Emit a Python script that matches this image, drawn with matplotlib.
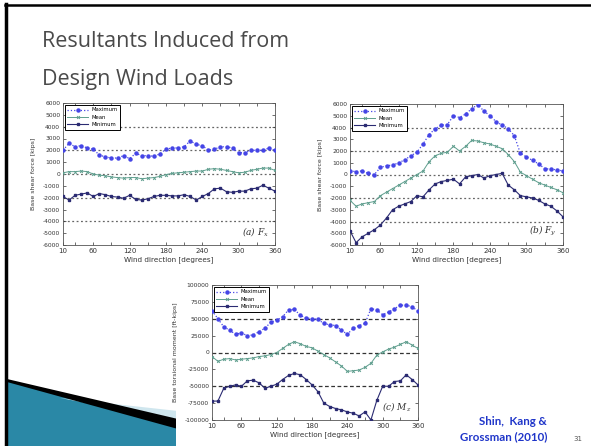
import numpy as np
import matplotlib.pyplot as plt
from matplotlib.patches import Polygon

plt.rcParams['mathtext.fontset'] = 'dejavuserif'

#---Wind directions (degrees)---
wind_dir = np.arange(10, 361, 10)

#---Base shear force Fx [kips]---
fx_max = [2000, 2600, 2300, 2400, 2200, 2100, 1600, 1450, 1350, 1350,
          1550, 1300, 1750, 1550, 1550, 1500, 1700, 2100, 2200, 2200,
          2300, 2800, 2500, 2400, 2000, 2100, 2300, 2300, 2200, 1800,
          1800, 2000, 2000, 2000, 2200, 2000]
fx_mean = [100, 200, 200, 250, 200, 0, -100, -150, -250, -300,
           -350, -300, -300, -400, -350, -300, -200, -50, 50, 100,
           150, 200, 250, 250, 400, 450, 400, 300, 200, 100,
           150, 300, 400, 500, 500, 300]
fx_min = [-1900, -2200, -1800, -1700, -1600, -1900, -1650, -1750, -1900, -1950,
          -2050, -1800, -2150, -2200, -2100, -1900, -1800, -1800, -1850, -1850,
          -1750, -1900, -2200, -1900, -1650, -1250, -1200, -1500, -1550, -1450,
          -1450, -1250, -1200, -950, -1200, -1450]

#---Base shear force Fy [kips]---
fy_max = [300, 250, 300, 100, 0, 600, 750, 800, 1000, 1250,
          1600, 1900, 2600, 3400, 3900, 4200, 4250, 5000, 4850, 5150,
          5600, 5950, 5400, 5000, 4500, 4200, 3900, 3300, 1800, 1500,
          1200, 900, 500, 450, 400, 300]
fy_mean = [-2200, -2700, -2500, -2400, -2300, -1800, -1500, -1200, -900, -600,
           -300, 0, 300, 1100, 1600, 1800, 1900, 2400, 2000, 2400,
           2900, 2850, 2700, 2600, 2400, 2200, 1700, 1100, 200, -100,
           -400, -700, -900, -1100, -1300, -1550]
fy_min = [-4800, -5800, -5300, -5000, -4700, -4300, -3700, -3000, -2700, -2500,
          -2300, -1800, -1900, -1300, -800, -600, -500, -400, -800, -200,
          -100, 0, -300, -100, 0, 100, -900, -1300, -1800, -1900,
          -2000, -2200, -2500, -2700, -3100, -3600]

#---Base torsional moment Mz [ft-kips]---
mz_max = [62000, 50000, 38000, 33000, 27000, 29000, 25000, 26000, 31000, 36000,
          45000, 48000, 53000, 63000, 64000, 55000, 51000, 50000, 49000, 43000,
          41000, 40000, 33000, 27000, 36000, 40000, 43000, 65000, 63000, 56000,
          60000, 65000, 70000, 70000, 68000, 61000]
mz_mean = [-6000, -13000, -10000, -9000, -11000, -10000, -9000, -8000, -6000, -5000,
           -3000, 0, 6000, 12000, 16000, 13000, 9000, 7000, 2000, -3000,
           -8000, -14000, -20000, -28000, -27000, -26000, -22000, -16000, -4000, 1000,
           5000, 8000, 12000, 16000, 11000, 6000]
mz_min = [-72000, -72000, -53000, -50000, -48000, -50000, -42000, -41000, -45000, -53000,
          -50000, -47000, -40000, -34000, -31000, -33000, -40000, -48000, -58000, -75000,
          -80000, -83000, -85000, -88000, -90000, -94000, -88000, -100000, -71000, -50000,
          -50000, -43000, -42000, -33000, -40000, -48000]

x_ticks = [10, 60, 120, 180, 240, 300, 360]
W, H = 591, 446


#---Helper to place an axes using pixel coordinates of the slide---
def px_axes(left, top, right, bottom):
    return fig.add_axes([left / W, 1 - bottom / H, (right - left) / W,
                         (bottom - top) / H])


#---Draw one panel of max / mean / min curves---
def panel(ax, ymax, ymean, ymin, ylim, yticks, ytick_labels, grid_y, ylabel,
          tag, grid_ls, grid_col):
    for g in grid_y:
        ax.axhline(g, color=grid_col, ls=grid_ls, lw=0.9, zorder=1)
    ax.plot(wind_dir, ymax, color='#4545e6', ls=':', lw=0.9, marker='o',
            ms=2.2, label='Maximum', zorder=3)
    ax.plot(wind_dir, ymean, color='#5f9e8e', ls='-', lw=0.7, marker='x',
            ms=2.0, mew=0.7, label='Mean', zorder=3)
    ax.plot(wind_dir, ymin, color='#2b2b72', ls='-', lw=0.8, marker='s',
            ms=2.0, label='Minimum', zorder=3)
    ax.set_xlim(10, 360)
    ax.set_ylim(*ylim)
    ax.set_xticks(x_ticks)
    ax.set_xticks(np.arange(30, 360, 60), minor=True)
    ax.set_yticks(yticks)
    ax.set_yticklabels(ytick_labels)
    ax.tick_params(which='both', direction='in', top=True, right=True,
                   length=2, width=0.5, labelsize=4.3, pad=2, colors='#333333')
    ax.tick_params(axis='x', labelsize=5)
    for s in ax.spines.values():
        s.set_linewidth(0.6)
        s.set_color('#555555')
    ax.set_xlabel('Wind direction [degrees]', fontsize=5.2, labelpad=1.5,
                  color='#333333')
    ax.set_ylabel(ylabel, fontsize=4.5, labelpad=5, color='#333333')
    leg = ax.legend(loc='upper left', fontsize=3.8, handlelength=3.8,
                    fancybox=False, framealpha=1, borderpad=0.45,
                    labelspacing=0.45, borderaxespad=0.4)
    leg.get_frame().set_edgecolor('black')
    leg.get_frame().set_linewidth(0.7)
    ax.text(0.97, 0.05, tag, transform=ax.transAxes, ha='right', va='bottom',
            fontsize=6.5, family='DejaVu Serif', style='italic',
            color='#333333')


fig = plt.figure(figsize=(W / 100, H / 100), dpi=100)

#---Slide background, frame and corner wedge---
bg = fig.add_axes([0, 0, 1, 1])
bg.set_xlim(0, W)
bg.set_ylim(H, 0)
bg.axis('off')
bg.add_patch(Polygon([(7, 381), (178, 428), (178, 446), (7, 446)],
                     closed=True, color='#2a88a6', lw=0))
bg.add_patch(Polygon([(60, 398), (178, 411), (178, 420)],
                     closed=True, color='#cfe6ee', lw=0))
bg.add_patch(Polygon([(7, 379), (178, 419), (178, 429), (7, 382)],
                     closed=True, color='black', lw=0))
bg.plot([6, 6], [4, 446], color='black', lw=2.5)
bg.plot([5, 591], [5, 5], color='black', lw=1.8)

#---Slide title and citation---
bg.text(42, 47, 'Resultants Induced from', fontsize=15.5, family='Open Sans',
        color='#4a4a4a', va='baseline')
bg.text(42, 85, 'Design Wind Loads', fontsize=15.5, family='Open Sans',
        color='#4a4a4a', va='baseline')
bg.text(547, 425, 'Shin,  Kang &', fontsize=8.3, family='Lato',
        weight='bold', color='#1f35c9', ha='right', va='baseline')
bg.text(547, 440, 'Grossman (2010)', fontsize=8.3, family='Lato',
        weight='bold', color='#1f35c9', ha='right', va='baseline')
bg.text(578, 441, '31', fontsize=5, color='#555555', ha='center',
        va='baseline')

#---Panel (a): Fx---
force_ticks = np.arange(-6000, 6001, 1000)
force_labels = [str(v) for v in force_ticks]
ax_a = px_axes(63, 103, 275, 245)
panel(ax_a, fx_max, fx_mean, fx_min, (-6000, 6000), force_ticks, force_labels,
      [4000, 2000, 0, -2000, -4000], 'Base shear force [kips]',
      '(a) $F_x$', (0, (1.5, 2)), '#666666')

#---Panel (b): Fy---
ax_b = px_axes(350, 104, 563, 245)
panel(ax_b, fy_max, fy_mean, fy_min, (-6000, 6000), force_ticks, force_labels,
      [4000, 2000, 0, -2000, -4000], 'Base shear force [kips]',
      '(b) $F_y$', (0, (1.5, 2)), '#666666')

#---Panel (c): Mz (image sits over the wedge)---
bg.add_patch(Polygon([(176, 280), (430, 280), (430, 446), (176, 446)],
                     closed=True, color='white', lw=0))
moment_ticks = np.arange(-100000, 100001, 25000)
moment_labels = [str(v) for v in moment_ticks]
ax_c = px_axes(212, 285, 418, 420)
panel(ax_c, mz_max, mz_mean, mz_min, (-100000, 100000), moment_ticks,
      moment_labels, [50000, 0, -50000], 'Base torsional moment [ft-kips]',
      '(c) $M_z$', (0, (3, 2)), '#333333')

plt.savefig('out.png', dpi=100)
